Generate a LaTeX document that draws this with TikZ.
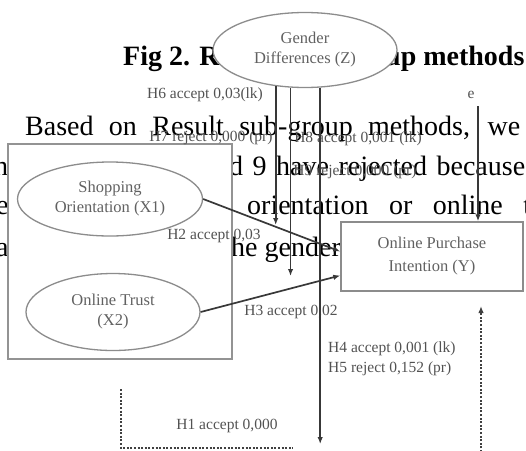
\documentclass[tikz,border=0pt]{standalone}
\usepackage{fontspec}
\setmainfont{Liberation Serif}
\usetikzlibrary{shapes.geometric,arrows.meta}

\begin{document}
\begin{tikzpicture}[x=1pt,y=-1pt,
construct/.style={ellipse,draw=gray!90,line width=1.3pt,fill=white,text=black!62,font=\fontsize{16.5}{20}\selectfont,align=center,inner sep=0pt},
outcome/.style={rectangle,draw=gray!90,line width=1.5pt,fill=white,text=black!62,font=\fontsize{16.5}{23}\selectfont,align=center},
hyp/.style={text=black!68,font=\fontsize{15.5}{20}\selectfont,inner sep=0pt},
bodytext/.style={anchor=base west,inner sep=0pt,font=\fontsize{28}{34}\selectfont},
effect/.style={line width=1.7pt,draw=black!78,-{Latex[length=7pt,width=5.5pt]}},
feedback/.style={line width=1.4pt,draw=black!75,dash pattern=on 2pt off 1.6pt}]
\useasboundingbox (0,0) rectangle (526,450);
% page text behind the figure
\node[bodytext,font=\fontsize{28}{34}\selectfont\bfseries] (title1) at (123,65) {Fig 2. R};
\node[bodytext,font=\fontsize{28}{34}\selectfont\bfseries] (title2) at (385,65) {up methods};
\node[bodytext] (line1) at (25,135) {\makebox[495pt][s]{Based on Result sub-group methods, we}};
\node[bodytext] (line2a) at (-6,175) {h};
\node[bodytext] (line2b) at (229,175) {\makebox[296pt][s]{d 9 have rejected because}};
\node[bodytext] (line3a) at (-4,214) {e};
\node[bodytext] (line3b) at (247,214) {\makebox[284pt][s]{orientation or online t}};
\node[bodytext] (line4a) at (-4,256) {a};
\node[bodytext] (line4b) at (231,256) {he gender};
% constructs
\node[draw=gray!85,line width=1.6pt,fill=white,minimum width=224pt,minimum height=215pt,inner sep=0pt] (block) at (120,251.5) {};
\node[construct,minimum width=184pt,minimum height=75pt] (gender) at (305,50) {Gender\\Differences (Z)};
\node[construct,minimum width=185pt,minimum height=74pt] (shopping) at (110,199) {Shopping\\Orientation (X1)};
\node[construct,minimum width=174pt,minimum height=77pt] (trust) at (113,312) {Online Trust\\(X2)};
\node[outcome,minimum width=182pt,minimum height=69pt] (intention) at (432,256.5) {Online Purchase\\Intention (Y)};
% hypotheses
\node[hyp] (h6) at (205,95) {H6 accept 0,03(lk)};
\node[hyp] (h7) at (211,138) {H7 reject 0,000 (pr)};
\node[hyp] (h8) at (358,139) {H8 accept 0,001 (lk)};
\node[hyp] (h9) at (355,172) {H9 reject 0,000 (pr)};
\node[hyp] (h2) at (214,236) {H2 accept 0,03};
\node[hyp] (h3) at (291,312) {H3 accept 0,02};
\node[hyp,anchor=west,align=left] (h45) at (328,359) {H4 accept 0,001 (lk)\\H5 reject 0,152 (pr)};
\node[hyp] (h1) at (227,426) {H1 accept 0,000};
\node[hyp] (err) at (471,95) {e};
% paths
\draw[effect] (shopping.east) -- ([yshift=5pt]intention.west);
\draw[effect] (trust.east) -- ([yshift=-19pt]intention.west);
\coordinate (end1) at (276,225);
\coordinate (end2) at (291,276);
\coordinate (end3) at (320,444);
\draw[effect] (gender.231) -- (gender.231 |- end1);
\draw[effect] (gender.249) -- (gender.249 |- end2);
\draw[effect] (gender.292) -- (gender.292 |- end3);
\coordinate (errtop) at (478,106);
\draw[effect] (errtop) -- (errtop |- intention.north);
% dashed lines
\coordinate (fbstart) at (121,389);
\coordinate (fbcorner) at (121,448);
\coordinate (fbend) at (293,448);
\draw[feedback] (fbstart) -- (fbcorner) -- (fbend);
\coordinate (fbbottom) at (481,452);
\coordinate (fbtip) at (481,306);
\draw[feedback,-{Latex[length=7pt,width=5.5pt]}] (fbbottom) -- (fbtip);
\end{tikzpicture}
\end{document}
